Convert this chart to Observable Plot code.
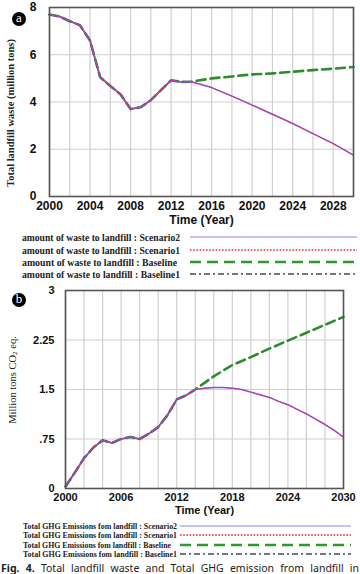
<!DOCTYPE html>
<html><head><meta charset="utf-8">
<script src="https://cdn.jsdelivr.net/npm/d3@7"></script>
<script src="https://cdn.jsdelivr.net/npm/@observablehq/plot@0.6"></script>
<style>
body{margin:0;background:#fff;}
#root{position:relative;width:360px;height:574px;overflow:hidden;background:#fff;}
.layer{position:absolute;left:0;}
.badge{position:absolute;width:14px;height:14px;border-radius:50%;background:#000;color:#fff;font:13px "Liberation Serif",serif;text-align:center;line-height:12px;}
.ytitle{position:absolute;width:220px;height:14px;text-align:center;transform:rotate(-90deg);font-family:"Liberation Serif",serif;color:#222;white-space:nowrap;line-height:14px;}
.caption{position:absolute;left:1px;width:358px;top:561px;font:10.5px "Noto Sans",sans-serif;color:#222;white-space:nowrap;text-align:justify;text-align-last:justify;}
</style></head>
<body><div id="root"></div>
<script>
// ---------- data: panel a (Total landfill waste, million tons) ----------
const histYears = [2000,2001,2002,2003,2004,2005,2006,2007,2008,2009,2010,2011,2012,2013,2014];
const histWaste = [7.70,7.62,7.42,7.25,6.60,5.05,4.68,4.33,3.70,3.78,4.08,4.50,4.92,4.85,4.86];
const projYearsA = [2014,2016,2018,2020,2022,2024,2026,2028,2030];
const baselineWaste = [4.86,5.00,5.08,5.17,5.21,5.28,5.35,5.41,5.48];
const scenarioWaste = [4.86,4.61,4.25,3.87,3.48,3.09,2.66,2.24,1.75];
const yTicksA = [0,2,4,6,8];
const xTicksA = [2000,2004,2008,2012,2016,2020,2024,2028];
const legendA = ["amount of waste to landfill : Scenario2","amount of waste to landfill : Scenario1","amount of waste to landfill : Baseline","amount of waste to landfill : Baseline1"];

// ---------- data: panel b (Total GHG emissions, million tons CO2 eq.) ----------
const histGhg = [0.03,0.24,0.46,0.62,0.73,0.69,0.75,0.78,0.75,0.83,0.93,1.11,1.35,1.41,1.50];
const projYearsB = [2014,2016,2018,2020,2022,2024,2026,2028,2030];
const baselineGhg = [1.50,1.70,1.87,1.99,2.12,2.24,2.36,2.48,2.60];
const scenYearsB = [2014,2015,2016,2017,2018,2019,2020,2021,2022,2023,2024,2025,2026,2027,2028,2029,2030];
const scenarioGhg = [1.50,1.52,1.53,1.53,1.52,1.50,1.46,1.42,1.38,1.32,1.27,1.20,1.13,1.05,0.97,0.88,0.78];
const yTicksB = [0,0.75,1.5,2.25,3];
const yTickLabelsB = ["0",".75","1.5","2.25","3"];
const xTicksB = [2000,2006,2012,2018,2024,2030];
const legendB = ["Total GHG Emissions fom landfill : Scenario2","Total GHG Emissions fom landfill : Scenario1","Total GHG Emissions fom landfill : Baseline","Total GHG Emissions fom landfill : Baseline1"];

const gridYears = [2000,2002,2004,2006,2008,2010,2012,2014,2016,2018,2020,2022,2024,2026,2028,2030];

// ---------- styles ----------
const styles = [
  {stroke:"#7a62e0", width:1.5, dash:null, lw:1.2, lstroke:"#8888e6"},
  {stroke:"#d8308a", width:1.1, dash:"1,1.6", lw:1.6, lstroke:"#e83030", ldash:"1.6,1.6"},
  {stroke:"#2e8b2e", width:2.6, dash:"9,5", lw:2.6, lstroke:"#2e9a2e", ldash:"11,6"},
  {stroke:"#333", width:1.6, dash:"5,2,1.5,2", lw:2, lstroke:"#777", ldash:"6,3,2,3"}
];

const rows = (xs, ys) => xs.map((x, i) => ({x, y: ys[i]}));
const root = document.getElementById("root");

function panel({hist, projX, base, scenX, scen, yDomain, yTicks, yFmt, xTicks, width, height, ml, mr, mt, mb, yPad, yFont, xFont, xPad, labelDy}) {
  const histData = rows(histYears, hist);
  const baseData = histData.concat(rows(projX, base).slice(1));
  const scenData = histData.concat(rows(scenX, scen).slice(1));
  // grid segments built from the tick arrays, drawn as grouped lines
  const gridV = gridYears.flatMap(g => [{k: "v" + g, x: g, y: yDomain[0]}, {k: "v" + g, x: g, y: yDomain[1]}]);
  const gridH = yTicks.flatMap(g => [{k: "h" + g, x: 2000, y: g}, {k: "h" + g, x: 2030, y: g}]);
  return Plot.plot({
    width, height, marginLeft: ml, marginRight: mr, marginTop: mt, marginBottom: mb,
    style: {fontFamily: "'Liberation Sans', Arial, sans-serif", color: "#111"},
    x: {domain: [2000, 2030]},
    y: {domain: yDomain},
    marks: [
      Plot.line(gridV.concat(gridH), {x: "x", y: "y", z: "k", stroke: "#cfcfcf", strokeWidth: 1.2}),
      Plot.line(baseData, {x: "x", y: "y", stroke: styles[2].stroke, strokeWidth: styles[2].width, strokeDasharray: styles[2].dash}),
      Plot.line(histData, {x: "x", y: "y", stroke: styles[3].stroke, strokeWidth: styles[3].width, strokeDasharray: styles[3].dash}),
      Plot.line(scenData, {x: "x", y: "y", stroke: styles[0].stroke, strokeWidth: styles[0].width}),
      Plot.line(scenData, {x: "x", y: "y", stroke: styles[1].stroke, strokeWidth: styles[1].width, strokeDasharray: styles[1].dash}),
      Plot.frame({stroke: "#555", strokeWidth: 1.6}),
      Plot.axisY(yTicks, {tickSize: 0, tickPadding: yPad, fontSize: yFont, fontWeight: "bold", label: null, tickFormat: yFmt}),
      Plot.axisX(xTicks, {tickSize: 0, tickPadding: xPad, fontSize: xFont, fontWeight: "bold", label: null, tickFormat: d => String(d)}),
      Plot.text(["Time (Year)"], {frameAnchor: "bottom", dy: labelDy, fontSize: xFont, fontWeight: "bold", fill: "#111"})
    ]
  });
}

function place(el, top) {
  el.classList.add("layer");
  el.style.top = top + "px";
  root.appendChild(el);
}

function legend(labels, {top, height, rowsY, fontSize, textX, textLen, lineX1, lineX2}) {
  const svg = d3.create("svg").attr("width", 360).attr("height", height);
  place(svg.node(), top);
  labels.forEach((lab, i) => {
    const s = styles[i];
    svg.append("text").attr("x", textX).attr("y", rowsY[i]).attr("dy", "0.35em")
      .attr("font-family", "'Liberation Serif', serif").attr("font-weight", "bold")
      .attr("font-size", fontSize).attr("fill", "#222")
      .attr("textLength", textLen[i]).attr("lengthAdjust", "spacingAndGlyphs").text(lab);
    svg.append("line").attr("x1", lineX1).attr("x2", lineX2).attr("y1", rowsY[i]).attr("y2", rowsY[i])
      .attr("stroke", s.lstroke).attr("stroke-width", s.lw)
      .attr("stroke-dasharray", s.ldash || null);
  });
}

// panel a
place(panel({hist: histWaste, projX: projYearsA, base: baselineWaste, scenX: projYearsA, scen: scenarioWaste,
  yDomain: [0, 8], yTicks: yTicksA, yFmt: d => String(d), xTicks: xTicksA,
  width: 360, height: 232, ml: 49, mr: 7, mt: 7, mb: 36, yPad: 13, yFont: 12, xFont: 12, xPad: 5, labelDy: 27}), 0);

legend(legendA, {top: 228, height: 54, rowsY: [9, 22, 34, 46], fontSize: 10, textX: 22, textLen: [158, 158, 155, 158], lineX1: 190, lineX2: 357});

// panel b
place(panel({hist: histGhg, projX: projYearsB, base: baselineGhg, scenX: scenYearsB, scen: scenarioGhg,
  yDomain: [0, 3], yTicks: yTicksB, yFmt: d => yTickLabelsB[yTicksB.indexOf(d)], xTicks: xTicksB,
  width: 360, height: 239, ml: 65, mr: 17, mt: 7, mb: 34, yPad: 11, yFont: 11, xFont: 11, xPad: 5, labelDy: 25}), 283);

legend(legendB, {top: 520, height: 40, rowsY: [6, 15, 25, 34], fontSize: 8, textX: 23, textLen: [154, 154, 148, 154], lineX1: 180, lineX2: 351});

// titles and badges
function ytitle(html, cx, cy, size, weight) {
  const d = document.createElement("div");
  d.className = "ytitle";
  d.innerHTML = html;
  d.style.left = (cx - 110) + "px";
  d.style.top = (cy - 7) + "px";
  d.style.fontSize = size + "px";
  d.style.fontWeight = weight;
  root.appendChild(d);
}
ytitle("Total landfill waste (million tons)", 11, 113, 10.5, "bold");
ytitle("Million tons CO<sub style='font-size:7px;vertical-align:-1px'>2</sub> eq.", 13, 380, 10.5, "normal");

function badge(letter, cx, cy) {
  const d = document.createElement("div");
  d.className = "badge";
  d.textContent = letter;
  d.style.left = (cx - 7) + "px";
  d.style.top = (cy - 7) + "px";
  root.appendChild(d);
}
badge("a", 19, 19);
badge("b", 19, 300);

const cap = document.createElement("div");
cap.className = "caption";
cap.innerHTML = "<b>Fig. 4.</b> Total landfill waste and Total GHG emission from landfill in";
root.appendChild(cap);
</script>
</body></html>
